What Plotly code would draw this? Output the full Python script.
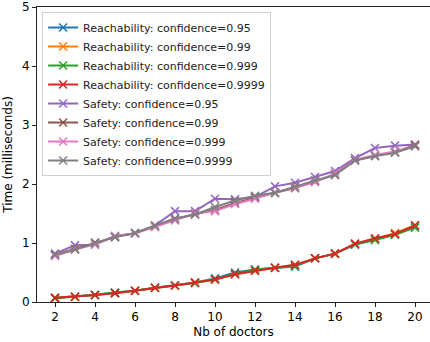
import plotly.graph_objects as go

doctors = list(range(2, 21))

reach_095 = [0.07, 0.09, 0.12, 0.16, 0.19, 0.24, 0.28, 0.33, 0.40, 0.50, 0.55, 0.58, 0.60, 0.74, 0.82, 0.97, 1.06, 1.15, 1.28]
reach_099 = [0.07, 0.09, 0.12, 0.15, 0.19, 0.24, 0.28, 0.33, 0.38, 0.47, 0.53, 0.58, 0.63, 0.74, 0.82, 0.98, 1.07, 1.17, 1.30]
reach_0999 = [0.06, 0.09, 0.12, 0.15, 0.19, 0.24, 0.28, 0.32, 0.38, 0.48, 0.55, 0.58, 0.61, 0.74, 0.82, 0.98, 1.05, 1.14, 1.26]
reach_09999 = [0.07, 0.09, 0.12, 0.15, 0.19, 0.24, 0.28, 0.33, 0.38, 0.47, 0.53, 0.58, 0.63, 0.74, 0.82, 0.99, 1.08, 1.15, 1.30]

safe_095 = [0.82, 0.96, 0.97, 1.12, 1.16, 1.30, 1.54, 1.54, 1.75, 1.74, 1.78, 1.96, 2.02, 2.12, 2.22, 2.44, 2.61, 2.65, 2.67]
safe_099 = [0.80, 0.90, 1.01, 1.10, 1.17, 1.28, 1.40, 1.49, 1.56, 1.68, 1.77, 1.85, 1.93, 2.05, 2.16, 2.40, 2.48, 2.54, 2.66]
safe_0999 = [0.78, 0.89, 0.98, 1.12, 1.16, 1.27, 1.38, 1.50, 1.54, 1.66, 1.75, 1.86, 1.94, 2.03, 2.18, 2.41, 2.49, 2.55, 2.64]
safe_09999 = [0.80, 0.89, 1.00, 1.10, 1.17, 1.29, 1.42, 1.48, 1.61, 1.72, 1.80, 1.85, 1.96, 2.06, 2.15, 2.40, 2.47, 2.53, 2.64]

series = [
    ("Reachability: confidence=0.95", reach_095, "#1f77b4"),
    ("Reachability: confidence=0.99", reach_099, "#ff7f0e"),
    ("Reachability: confidence=0.999", reach_0999, "#2ca02c"),
    ("Reachability: confidence=0.9999", reach_09999, "#d62728"),
    ("Safety: confidence=0.95", safe_095, "#9467bd"),
    ("Safety: confidence=0.99", safe_099, "#8c564b"),
    ("Safety: confidence=0.999", safe_0999, "#e377c2"),
    ("Safety: confidence=0.9999", safe_09999, "#7f7f7f"),
]

fig = go.Figure()
for name, vals, col in series:
    fig.add_trace(go.Scatter(
        x=doctors, y=vals, name=name, mode="lines+markers",
        line=dict(color=col, width=2),
        marker=dict(symbol="x-thin", size=8, line=dict(color=col, width=1.5), color=col),
    ))

fig.update_layout(
    width=430, height=342,
    margin=dict(l=37, r=0, t=7, b=40),
    plot_bgcolor="white", paper_bgcolor="white",
    font=dict(family="DejaVu Sans", size=12, color="#000000"),
    showlegend=True,
    legend=dict(
        x=0.013, y=0.983, xanchor="left", yanchor="top",
        bgcolor="rgba(255,255,255,0.8)", bordercolor="#d0d0d0", borderwidth=1,
        font=dict(family="DejaVu Sans", size=11, color="#222222"),
        tracegroupgap=0, itemwidth=30,
    ),
    xaxis=dict(
        range=[1.1, 20.75], tickmode="array", tickvals=list(range(2, 21, 2)),
        showline=True, linecolor="#222222", linewidth=1, mirror=True,
        ticks="outside", ticklen=4, tickcolor="#222222",
        showgrid=False, zeroline=False, automargin=False,
        title=dict(text="Nb of doctors", font=dict(size=12), standoff=4),
        tickfont=dict(size=12),
    ),
    yaxis=dict(
        range=[0, 5], tickmode="array", tickvals=[0, 1, 2, 3, 4, 5],
        showline=True, linecolor="#222222", linewidth=1,
        ticks="outside", ticklen=4, tickcolor="#222222",
        showgrid=False, zeroline=False, automargin=False,
        title=dict(text="Time (milliseconds)", font=dict(size=12), standoff=6),
        tickfont=dict(size=12),
    ),
)

fig.write_html("out.html", config={"displayModeBar": False},
               post_script="document.body.style.margin='0';")
